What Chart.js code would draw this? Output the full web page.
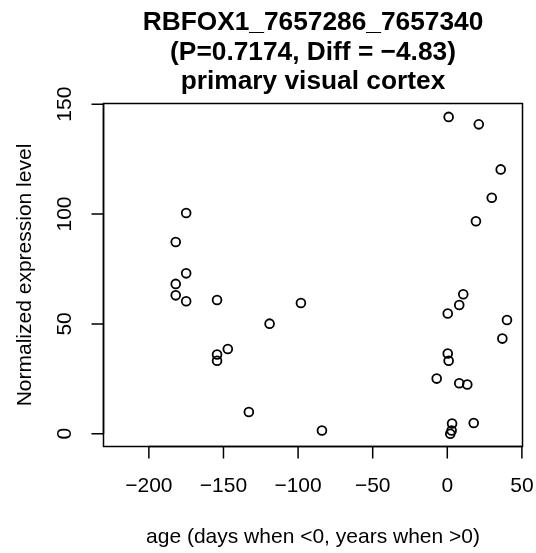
<!DOCTYPE html>
<html>
<head>
<meta charset="utf-8">
<script src="https://cdn.jsdelivr.net/npm/chart.js@4"></script>
<style>
  html, body { margin: 0; padding: 0; background: #fff; }
  #wrap { width: 536px; height: 553px; }
</style>
</head>
<body>
<div id="wrap"><canvas id="plot" width="536" height="553"></canvas></div>
<script>
// ages (days when <0, years when >0)
const ages = [
  -175, -182, -175, -182, -182, -175, -154.3, -98.1, -119.1, -147.1,
  -154.3, -154.3, -133, -84, 10.7, 8, 0.3, 40, 36.9, 0.3,
  0.9, -7.1, 8, 13.4, 3.2, 17.7, 2.9, 2, 0.9, 21.1,
  35.8, 29.8, 19.2
];
// normalized expression level
const levels = [
  100.5, 87.3, 73, 68.2, 63, 60.3, 60.9, 59.5, 50.1, 38.6,
  36.1, 33.2, 9.9, 1.5, 63.5, 58.6, 54.7, 51.8, 43.3, 36.5,
  33.2, 25.1, 23, 22.4, 4.7, 4.9, 1.5, 0, 144.2, 140.8,
  120.3, 107.4, 96.7
];
const xTicks = [-200, -150, -100, -50, 0, 50];
const yTicks = [0, 50, 100, 150];
const titleLines = ['RBFOX1_7657286_7657340', '(P=0.7174, Diff = \u22124.83)', 'primary visual cortex'];
const xLabel = 'age (days when <0, years when >0)';
const yLabel = 'Normalized expression level';

const FONT = '"Liberation Sans", Arial, Helvetica, sans-serif';
const fmt = v => (v < 0 ? '\u2212' + Math.abs(v) : String(v));

// R-style box, ticks and labels
const rAxes = {
  id: 'rAxes',
  afterDraw(chart) {
    const ctx = chart.ctx;
    const a = chart.chartArea;
    const xs = chart.scales.x, ys = chart.scales.y;
    ctx.save();
    ctx.strokeStyle = '#000';
    ctx.fillStyle = '#000';
    ctx.lineWidth = 1.5;
    ctx.strokeRect(a.left, a.top, a.right - a.left, a.bottom - a.top);

    // x axis
    ctx.font = '21px ' + FONT;
    ctx.textAlign = 'center';
    ctx.textBaseline = 'middle';
    ctx.beginPath();
    ctx.moveTo(xs.getPixelForValue(xTicks[0]), a.bottom);
    ctx.lineTo(xs.getPixelForValue(xTicks[xTicks.length - 1]), a.bottom);
    xTicks.forEach(t => {
      const px = xs.getPixelForValue(t);
      ctx.moveTo(px, a.bottom);
      ctx.lineTo(px, a.bottom + 12);
    });
    ctx.stroke();
    xTicks.forEach(t => ctx.fillText(fmt(t), xs.getPixelForValue(t), a.bottom + 40));

    // y axis
    ctx.beginPath();
    ctx.moveTo(a.left, ys.getPixelForValue(yTicks[0]));
    ctx.lineTo(a.left, ys.getPixelForValue(yTicks[yTicks.length - 1]));
    yTicks.forEach(t => {
      const py = ys.getPixelForValue(t);
      ctx.moveTo(a.left, py);
      ctx.lineTo(a.left - 12, py);
    });
    ctx.stroke();
    yTicks.forEach(t => {
      ctx.save();
      ctx.translate(a.left - 38, ys.getPixelForValue(t));
      ctx.rotate(-Math.PI / 2);
      ctx.fillText(fmt(t), 0, 0);
      ctx.restore();
    });

    // axis titles
    const cx = (a.left + a.right) / 2;
    const cy = (a.top + a.bottom) / 2;
    ctx.fillText(xLabel, cx, 537);
    ctx.save();
    ctx.translate(25, cy);
    ctx.rotate(-Math.PI / 2);
    ctx.fillText(yLabel, 0, 0);
    ctx.restore();

    // main title
    ctx.font = 'bold 26.3px ' + FONT;
    ctx.textBaseline = 'alphabetic';
    const base = [30, 59.5, 89];
    titleLines.forEach((s, i) => ctx.fillText(s, cx, base[i]));
    ctx.restore();
  }
};

new Chart(document.getElementById('plot'), {
  type: 'scatter',
  data: {
    datasets: [{
      data: ages.map((x, i) => ({ x: x, y: levels[i] })),
      pointStyle: 'circle',
      pointRadius: 4.4,
      pointHoverRadius: 4.4,
      pointBorderWidth: 1.8,
      pointBorderColor: '#000',
      pointBackgroundColor: 'rgba(0,0,0,0)',
      clip: false
    }]
  },
  options: {
    responsive: false,
    animation: false,
    events: [],
    layout: { padding: { left: 103.5, right: 13.5, top: 103.5, bottom: 106.5 } },
    plugins: { legend: { display: false }, tooltip: { enabled: false } },
    scales: {
      x: { type: 'linear', min: -230.4, max: 50.4, display: false },
      y: { type: 'linear', min: -5.8, max: 150.3, display: false }
    }
  },
  plugins: [rAxes]
});
</script>
</body>
</html>
